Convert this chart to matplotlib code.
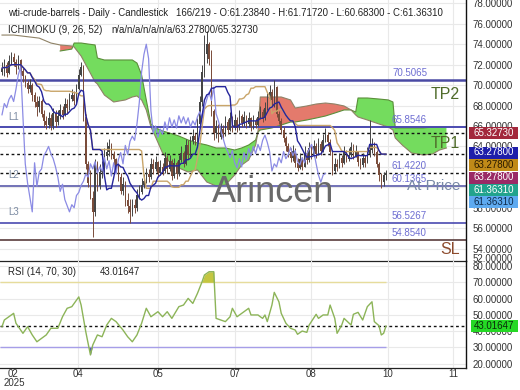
import matplotlib
matplotlib.use('Agg')
import matplotlib.pyplot as plt
import numpy as np
import pandas as pd
from matplotlib.patches import Rectangle

plt.rcParams['font.family'] = ['Liberation Sans', 'DejaVu Sans']

# ---------------- data ----------------
opens = [71.3, 71.6, 72.0, 71.2, 72.4, 72.8, 72.3, 71.8, 72.5, 71.4,
         70.9, 70.2, 69.6, 70.0, 69.0, 68.3, 67.9, 68.4, 67.2, 66.5,
         66.1, 66.8, 66.0, 67.3, 66.4, 67.0, 67.6, 67.1, 68.2, 67.8,
         68.6, 69.0, 68.4, 69.6, 71.0, 71.8, 66.9, 62.3, 60.4, 59.0,
         57.6, 62.4, 60.1, 61.5, 61.8, 63.1, 63.5, 64.0, 63.3, 62.8,
         62.0, 61.0, 59.6, 60.3, 58.8, 58.2, 57.6, 58.3, 58.0, 59.2,
         59.5, 60.2, 60.6, 61.3, 61.0, 62.3, 61.8, 62.5, 61.4, 62.0,
         61.6, 62.9, 61.8, 62.6, 61.1, 62.4, 61.3, 62.7, 63.4, 62.3,
         64.1, 63.2, 64.5, 65.0, 64.6, 66.2, 68.3, 71.3, 73.0, 74.0,
         72.6, 67.5, 65.3, 66.0, 64.9, 65.7, 65.2, 66.4, 65.6, 66.8,
         65.9, 66.6, 65.8, 67.0, 66.3, 66.9, 66.2, 66.8, 65.9, 66.5,
         66.1, 66.9, 67.4, 66.8, 67.8, 68.6, 69.3, 68.5, 69.8, 67.2,
         66.5, 65.6, 64.8, 64.0, 63.5, 62.9, 63.6, 62.4, 61.9, 62.8,
         62.0, 63.4, 62.7, 63.8, 63.1, 64.0, 63.3, 64.2, 63.6, 64.6,
         65.1, 64.4, 63.5, 61.6, 62.3, 62.0, 62.9, 62.4, 63.5, 62.8,
         63.2, 63.9, 63.1, 63.6, 62.5, 62.2, 62.9, 62.4, 63.3, 63.7,
         64.2, 63.5, 62.3, 61.2, 60.5, 61.2384]
closes = [71.6, 72.0, 71.2, 72.4, 72.8, 72.3, 71.8, 72.5, 71.4, 70.9,
          70.2, 69.6, 70.0, 69.0, 68.3, 67.9, 68.4, 67.2, 66.5, 66.1,
          66.8, 66.0, 67.3, 66.4, 67.0, 67.6, 67.1, 68.2, 67.8, 68.6,
          69.0, 68.4, 69.6, 71.0, 71.8, 66.9, 62.3, 60.4, 59.0, 57.6,
          62.4, 60.1, 61.5, 61.8, 63.1, 63.5, 64.0, 63.3, 62.8, 62.0,
          61.0, 59.6, 60.3, 58.8, 58.2, 57.6, 58.3, 58.0, 59.2, 59.5,
          60.2, 60.6, 61.3, 61.0, 62.3, 61.8, 62.5, 61.4, 62.0, 61.6,
          62.9, 61.8, 62.6, 61.1, 62.4, 61.3, 62.7, 63.4, 62.3, 64.1,
          63.2, 64.5, 65.0, 64.6, 66.2, 68.3, 71.3, 73.0, 74.0, 72.6,
          67.5, 65.3, 66.0, 64.9, 65.7, 65.2, 66.4, 65.6, 66.8, 65.9,
          66.6, 65.8, 67.0, 66.3, 66.9, 66.2, 66.8, 65.9, 66.5, 66.1,
          66.9, 67.4, 66.8, 67.8, 68.6, 69.3, 68.5, 69.8, 67.2, 66.5,
          65.6, 64.8, 64.0, 63.5, 62.9, 63.6, 62.4, 61.9, 62.8, 62.0,
          63.4, 62.7, 63.8, 63.1, 64.0, 63.3, 64.2, 63.6, 64.6, 65.1,
          64.4, 63.5, 61.6, 62.3, 62.0, 62.9, 62.4, 63.5, 62.8, 63.2,
          63.9, 63.1, 63.6, 62.5, 62.2, 62.9, 62.4, 63.3, 63.7, 64.2,
          63.5, 62.3, 61.2, 60.5, 61.2, 61.3631]
highs = [72.3, 72.6, 72.3, 72.9, 73.2, 73.1, 72.6, 72.9, 72.6, 71.8,
         71.0, 70.5, 70.6, 70.2, 69.3, 68.9, 68.9, 68.6, 67.6, 67.0,
         67.4, 67.2, 67.8, 67.6, 67.6, 68.2, 68.0, 68.7, 68.6, 69.2,
         69.6, 69.4, 70.1, 71.6, 72.3, 72.0, 67.2, 62.6, 61.7, 59.6,
         62.8, 62.6, 62.3, 62.6, 63.8, 64.4, 64.7, 64.3, 63.6, 62.9,
         62.4, 61.4, 61.0, 60.6, 59.4, 58.9, 58.9, 58.9, 59.8, 60.2,
         60.9, 61.3, 61.9, 61.8, 62.9, 62.8, 63.1, 62.6, 62.7, 62.4,
         63.5, 63.2, 63.2, 62.8, 62.9, 62.6, 63.2, 64.0, 63.6, 64.7,
         64.6, 65.0, 65.7, 65.3, 66.8, 68.9, 72.0, 74.9, 75.3, 74.2,
         73.4, 67.7, 66.6, 66.2, 66.3, 66.1, 67.0, 66.7, 67.4, 67.0,
         67.2, 66.9, 67.6, 67.2, 67.5, 67.1, 67.4, 66.9, 67.1, 66.8,
         67.5, 68.0, 67.7, 68.3, 69.2, 70.0, 69.6, 70.5, 69.9, 67.5,
         66.8, 65.9, 65.0, 64.3, 63.8, 64.1, 63.8, 62.9, 63.4, 63.0,
         64.0, 63.7, 64.4, 64.1, 64.6, 64.3, 64.8, 64.5, 65.2, 65.8,
         65.4, 64.7, 63.7, 62.9, 62.8, 63.4, 63.2, 64.0, 63.7, 63.8,
         64.4, 64.2, 64.1, 63.6, 62.9, 63.4, 63.2, 63.9, 66.6, 64.8,
         64.4, 63.7, 62.5, 61.4, 61.5, 61.7172]
lows = [71.0, 70.9, 70.8, 71.1, 72.0, 71.9, 71.1, 71.6, 71.0, 70.3,
        69.8, 69.2, 69.3, 68.4, 67.9, 67.0, 67.4, 66.9, 65.9, 65.7,
        65.8, 65.6, 65.7, 65.9, 66.1, 66.7, 66.7, 67.0, 67.3, 67.6,
        68.4, 68.1, 68.2, 69.5, 70.9, 66.5, 61.8, 60.0, 58.9, 55.1,
        57.2, 59.6, 59.8, 60.9, 61.5, 62.7, 63.1, 62.8, 62.2, 61.5,
        60.6, 59.3, 59.2, 58.2, 57.5, 56.5, 57.2, 57.5, 57.7, 58.9,
        59.3, 59.9, 60.4, 60.5, 60.8, 61.3, 61.6, 61.0, 61.2, 61.2,
        61.4, 61.4, 61.6, 60.7, 60.9, 60.8, 61.1, 62.5, 62.0, 62.2,
        62.8, 63.0, 64.2, 64.1, 64.4, 66.0, 68.0, 70.8, 72.2, 72.0,
        67.0, 64.6, 64.8, 64.4, 64.7, 64.8, 65.0, 65.2, 65.5, 65.4,
        65.6, 65.4, 65.6, 65.9, 66.0, 65.8, 65.9, 65.5, 65.7, 65.8,
        66.0, 66.7, 66.4, 66.6, 67.6, 68.4, 68.0, 67.9, 66.9, 66.2,
        65.2, 64.4, 63.6, 63.0, 62.5, 62.6, 62.0, 61.6, 61.8, 61.7,
        62.0, 62.3, 62.5, 62.8, 63.0, 62.9, 63.2, 63.2, 63.5, 64.4,
        64.0, 63.2, 61.2, 61.4, 61.6, 61.9, 62.0, 62.3, 62.5, 62.6,
        63.0, 62.8, 63.0, 62.1, 61.8, 62.0, 62.0, 62.4, 63.0, 63.4,
        63.1, 62.0, 60.6, 59.9, 60.1, 60.683]

# Ichimoku cloud (senkou spans, already displaced)
cloud_bar = [0, 5, 16, 21, 25, 30, 31, 34, 37, 40, 41, 44, 48, 53, 56, 58, 60, 62,
             64, 66, 69, 72, 76, 80, 84, 88, 92, 96, 100, 103, 106, 109, 110, 111,
             116, 120, 124, 126, 131, 135, 139, 143, 147, 150, 152, 153, 157, 162,
             166, 168, 169, 172, 176, 181, 185, 188, 191]
span_a = [np.nan, np.nan, np.nan, np.nan,
          73.34, 73.53, 74.12, 74.12, 74.02, 73.93, 72.65, 72.46, 72.46, 72.46,
          72.46, 72.16, 70.99, 68.55, 66.20, 65.81, 65.51, 65.31, 65.02, 64.63,
          64.34, 64.14, 63.85, 63.85, 63.65, 63.85, 64.14, 64.63, 65.41, 65.61,
          65.81, 66.10, 66.39, 66.39, 66.59, 66.78, 66.98, 67.27, 67.57, 67.57,
          67.37, 68.74, 68.74, 68.64, 68.55, 68.35, 65.81, 65.81, 65.81, 65.81,
          65.90, 65.90, 65.90]
span_b = [74.90, 74.90, 74.60, 74.12,
          73.93, 73.83, 73.73, 72.85, 71.58, 70.31, 70.11, 69.03, 68.35, 68.55,
          68.84, 68.94, 68.55, 67.57, 65.90, 64.92, 63.36, 62.48, 61.89, 61.50,
          61.70, 60.52, 60.13, 60.23, 61.21, 62.18, 62.67, 64.14, 65.41, 68.84,
          68.84, 68.84, 68.55, 67.76, 67.96, 68.15, 68.25, 68.15, 67.96, 67.57,
          67.08, 66.88, 66.59, 66.20, 65.90, 65.61, 64.83, 64.14, 63.36, 63.16,
          63.26, 63.65, 63.85]

# RSI (14)
rsi_bar = [0, 1, 5, 6, 9, 11, 13, 15, 17, 19, 21, 24, 26, 28, 30, 33, 34, 36, 38, 39,
           41, 43, 45, 47, 49, 52, 54, 56, 58, 60, 62, 64, 67, 69, 71, 73, 76, 78, 80, 82,
           84, 86, 87, 89, 91, 92, 94, 96, 98, 99, 101, 104, 106, 107, 110, 111, 112, 113,
           114, 116, 117, 119, 120, 122, 124, 126, 127, 129, 131, 132, 135, 136, 138, 140,
           141, 143, 144, 146, 147, 150, 151, 153, 155, 157, 159, 160, 162, 163, 164, 165]
rsi_val = [42.7, 46.8, 50.9, 44.8, 38.6, 42.7, 37.6, 33.4, 35.5, 37.6,
           41.7, 41.7, 48.8, 54.0, 55.0, 61.0, 56.0, 39.6, 25.3, 31.4,
           37.6, 36.5, 43.7, 47.8, 45.8, 40.6, 36.5, 33.4, 37.6, 44.8,
           54.0, 48.8, 51.9, 48.8, 51.9, 47.8, 55.0, 56.0, 60.1, 57.0,
           63.2, 70.4, 74.5, 76.5, 76.5, 47.8, 46.8, 45.8, 48.8, 54.0,
           48.8, 51.9, 54.0, 49.9, 49.9, 48.8, 47.8, 49.9, 45.8, 56.0,
           63.8, 58.0, 50.9, 44.8, 41.7, 40.6, 38.0, 40.0, 39.2, 43.7,
           50.3, 47.8, 49.9, 49.9, 56.0, 47.8, 38.6, 43.7, 47.8, 43.7,
           50.3, 51.5, 46.8, 55.0, 58.0, 45.8, 43.3, 37.6, 38.6, 43.0]

level_values = [70.5065, 65.8546, 61.4220, 60.1365, 56.5267, 54.8540]
current_values = [65.32730, 63.27800, 61.36310]
rsi_last = 43.01647
price_ticks = [54, 56, 58, 60, 62, 64, 66, 68, 70, 72, 74, 76, 78]
rsi_ticks = [20, 30, 40, 50, 60, 70, 80]
x_tick_labels = ['02', '04', '05', '07', '08', '10', '11']
x_tick_pos = [4.7, 32.7, 67.0, 100.1, 132.8, 165.9, 193.8]
year_label = '2025'
box_labels = ['65.32730', '63.27800', '63.27800', '63.27800', '61.36310', '61.36310']

# ---------------- figure ----------------
W, H = 520, 390
fig = plt.figure(figsize=(W / 100, H / 100), dpi=100)
fig.patch.set_facecolor('white')


def fx(x):
    return x / W


def fy(y):
    return 1 - y / H


ax = fig.add_axes([0, fy(261), fx(466), 261 / H])
ax2 = fig.add_axes([0, fy(368), fx(466), 107 / H], sharex=ax)

ax.set_xlim(-0.86, 199.4)
ax.set_ylim(52.79, 78.33)
ax2.set_ylim(17.26, 83.1)

grid_c = '#e9e9e9'
for a in (ax, ax2):
    for s in ('top', 'left'):
        a.spines[s].set_visible(False)
    a.spines['right'].set_color('#111111')
    a.spines['right'].set_linewidth(1.0)
    a.spines['bottom'].set_color('#222222')
    a.spines['bottom'].set_linewidth(0.9)
    a.yaxis.tick_right()
    a.tick_params(axis='y', length=0, pad=5, labelsize=7, labelcolor='#333333')
    a.set_facecolor('none')
    for xp in x_tick_pos[1:]:
        a.axvline(xp, color=grid_c, lw=0.8, zorder=0)

ax.set_yticks(price_ticks)
ax.set_yticklabels([f'{v:.5f}' for v in price_ticks])
for v in price_ticks:
    ax.axhline(v, color=grid_c, lw=0.8, zorder=0)
ax2.set_yticks(rsi_ticks)
ax2.set_yticklabels([f'{v:.5f}' for v in rsi_ticks])
for v in rsi_ticks:
    ax2.axhline(v, color=grid_c, lw=0.8, zorder=0)

ax.tick_params(axis='x', length=0, labelbottom=False)
ax2.set_xticks(x_tick_pos)
ax2.set_xticklabels(x_tick_labels, fontsize=7, color='#333333')
ax2.tick_params(axis='x', length=0, pad=1)
fig.text(fx(14), fy(383), year_label, fontsize=7, color='#333333', ha='center', va='center')

# ---------------- cloud ----------------
cb = np.array(cloud_bar, dtype=float)
sa = np.array(span_a, dtype=float)
sb = np.array(span_b, dtype=float)
valid = ~np.isnan(sa)
ax.fill_between(cb[valid], sa[valid], sb[valid], where=sa[valid] >= sb[valid],
                interpolate=True, color='#74dc5e', lw=0, zorder=1)
ax.fill_between(cb[valid], sa[valid], sb[valid], where=sa[valid] < sb[valid],
                interpolate=True, color='#e47a6c', lw=0, zorder=1)
ax.plot(cb, sa, color='#5b8f3a', lw=0.8, zorder=1.5)
ax.plot(cb, sb, color='#8f8266', lw=0.8, zorder=1.5)

# ---------------- levels ----------------
level_colors = ['#4a4aa4', '#4a4ab0', None, '#5a5aaa', '#4a4ab0', '#5a3c3c']
level_lw = [1.8, 1.4, 0, 1.2, 1.2, 1.2]
for v, c, lw in zip(level_values, level_colors, level_lw):
    if c is not None:
        ax.axhline(v, color=c, lw=lw, zorder=2)
for v in current_values:
    ax.axhline(v, color='#111111', lw=1.0, ls=(0, (2, 2)), zorder=2.5)

label_x = (392 - 2) / 2.327
for v in level_values:
    ax.annotate(f'{v:.4f}', (label_x, v), xytext=(0, 1.5), textcoords='offset points',
                fontsize=7, color='#6e6ed2', ha='left', va='bottom', zorder=6)

# ---------------- candles ----------------
o = np.array(opens)
c = np.array(closes)
h = np.array(highs)
l = np.array(lows)
idx = np.arange(len(c))
up = c >= o
col = np.where(up, '#454545', '#7a4c3a')
ax.vlines(idx, np.minimum(l, np.minimum(o, c)), np.maximum(h, np.maximum(o, c)),
          colors=col, lw=0.7, zorder=3)
ax.bar(idx, np.maximum(np.abs(c - o), 0.05), bottom=np.minimum(o, c), width=0.65,
       color=col, lw=0, zorder=3)

# ---------------- ichimoku lines ----------------
hs = pd.Series(highs)
ls_ = pd.Series(lows)
tenkan = (hs.rolling(9, min_periods=1).max() + ls_.rolling(9, min_periods=1).min()) / 2
kijun = (hs.rolling(26, min_periods=1).max() + ls_.rolling(26, min_periods=1).min()) / 2
ax.plot(idx, kijun, color='#c9a56a', lw=1.0, zorder=4)
ax.plot(idx, tenkan, color='#25259c', lw=1.0, zorder=4.2)
ax.plot(idx[26:] - 26, c[26:], color='#8b8be4', lw=0.9, zorder=4.1)

# ---------------- RSI ----------------
rb = np.array(rsi_bar, dtype=float)
rv = np.array(rsi_val)
ax2.hlines(70, -0.86, rb[-1], color='#e6dc9c', lw=1.0, zorder=1)
ax2.hlines(30, -0.86, rb[-1], color='#a69ee8', lw=1.0, zorder=1)
ax2.fill_between(rb, rv, 70, where=rv >= 70, interpolate=True, color='#c4c640', lw=0, zorder=2)
ax2.fill_between(rb, rv, 30, where=rv <= 30, interpolate=True, color='#5a5ab4', lw=0, zorder=2)
ax2.plot(rb, rv, color='#8cb458', lw=1.0, zorder=3)
ax2.axhline(rsi_last, color='#111111', lw=1.0, ls=(0, (2, 2)), zorder=2.5)

# ---------------- texts ----------------
tc = '#222222'
fig.text(fx(8), fy(13), 'wti-crude-barrels - Daily - Candlestick', fontsize=6.9, color=tc, va='center')
fig.text(fx(176), fy(13), '166/219 - O:61.23840 - H:61.71720 - L:60.68300 - C:61.36310',
         fontsize=6.9, color=tc, va='center')
fig.text(fx(8), fy(30), 'ICHIMOKU (9, 26, 52)', fontsize=6.9, color=tc, va='center')
fig.text(fx(111), fy(30), 'n/a/n/a/n/a/n/a/63.27800/65.32730', fontsize=6.9, color=tc, va='center')
fig.text(fx(8), fy(272), 'RSI (14, 70, 30)', fontsize=6.9, color=tc, va='center')
fig.text(fx(100), fy(272), f'{rsi_last:.5f}', fontsize=6.9, color=tc, va='center')

for name, v in zip(['L1', 'L2', 'L3'], [level_values[1], level_values[3], level_values[4]]):
    ax.annotate(name, (2.6, v), xytext=(0, 4), textcoords='offset points', fontsize=7,
                color='#7b8aa2', ha='left', va='bottom', zorder=6)

ax.text(196.8, 69.04, 'TP2', fontsize=11.5, color='#4f6b2a', ha='right', va='center', zorder=6)
ax.text(196.8, 64.24, 'TP1', fontsize=11.5, color='#4f6b2a', ha='right', va='center', zorder=6)
ax.text(196.8, 60.13, 'At Price', fontsize=11, color='#7888a6', ha='right', va='center', zorder=6)
ax.text(196.8, 53.87, 'SL', fontsize=11.5, color='#8c4a2c', ha='right', va='center', zorder=6)

fig.text(fx(273), fy(193), 'Arincen', fontsize=26, color='#6a6a6a', ha='center', va='center', zorder=10)

fig.text(fx(473), fy(259), '52.00000', fontsize=7, color='#333333', va='center')

# value boxes on the price axis
box_cfg = [(133, '#a3283c', 'white'), (152.5, '#1e1eaa', 'white'), (165, '#c08a18', '#2a1a00'),
           (177.5, '#9a2a66', 'white'), (189.5, '#22a38c', 'white'), (201.5, '#5eaaf0', '#0e2a4a')]
for lab, (yc, bg, fg) in zip(box_labels, box_cfg):
    fig.add_artist(Rectangle((fx(469), fy(yc + 6)), 49 / W, 12 / H, transform=fig.transFigure,
                             facecolor=bg, edgecolor='none', zorder=20))
    fig.text(fx(473), fy(yc), lab, fontsize=7, color=fg, va='center', zorder=21)
fig.add_artist(Rectangle((fx(471), fy(332)), 47 / W, 12 / H, transform=fig.transFigure,
                         facecolor='#25d825', edgecolor='none', zorder=20))
fig.text(fx(474), fy(326), f'{rsi_last:.5f}', fontsize=7, color='#0a2a0a', va='center', zorder=21)

fig.savefig('out.png', dpi=100)
